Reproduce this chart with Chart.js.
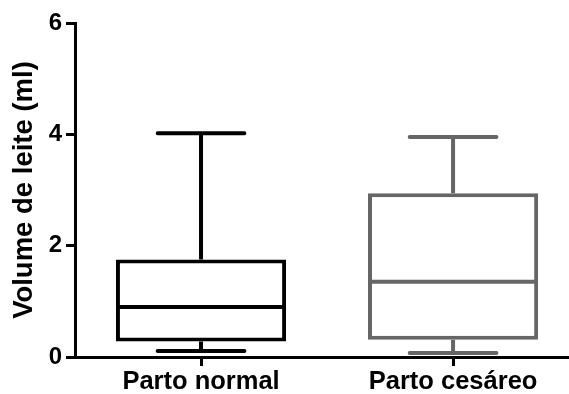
<!DOCTYPE html>
<html>
<head>
<meta charset="utf-8">
<script src="https://cdn.jsdelivr.net/npm/chart.js@4/dist/chart.umd.min.js"></script>
<style>
  html, body { margin: 0; padding: 0; background: #fff; }
  #wrap { width: 569px; height: 394px; }
</style>
</head>
<body>
<div id="wrap"><canvas id="c" width="569" height="394"></canvas></div>
<script>
// ---- data ----
const categories = ['Parto normal', 'Parto cesáreo'];
const whiskerMin = [0.11, 0.07];
const q1 = [0.28, 0.31];
const median = [0.90, 1.35];
const q3 = [1.75, 2.94];
const whiskerMax = [4.02, 3.95];
const yTicks = [0, 2, 4, 6];
const boxColors = ['#000000', '#666666'];

const FONT = '"Liberation Sans", Arial, Helvetica, sans-serif';
const LINE_W = 4;

const whiskerPlugin = {
  id: 'whiskers',
  afterDatasetsDraw(chart) {
    const xs = chart.scales.x, ys = chart.scales.y, ctx = chart.ctx;
    const meta = chart.getDatasetMeta(0);
    ctx.save();
    categories.forEach((c, i) => {
      const bar = meta.data[i];
      const cx = xs.getPixelForValue(i + 1);
      const capL = xs.getPixelForValue(i + 1 - 0.172);
      const capR = xs.getPixelForValue(i + 1 + 0.172);
      const yMax = ys.getPixelForValue(whiskerMax[i]);
      const yMin = ys.getPixelForValue(whiskerMin[i]);
      const yQ3 = ys.getPixelForValue(q3[i]);
      const yQ1 = ys.getPixelForValue(q1[i]);
      const yMed = ys.getPixelForValue(median[i]);
      ctx.strokeStyle = boxColors[i];
      ctx.lineWidth = LINE_W;
      ctx.lineCap = 'butt';
      ctx.beginPath();
      ctx.moveTo(cx, yQ3); ctx.lineTo(cx, yMax);
      ctx.moveTo(cx, yQ1); ctx.lineTo(cx, yMin);
      ctx.stroke();
      ctx.lineCap = 'round';
      ctx.beginPath();
      ctx.moveTo(capL, yMax); ctx.lineTo(capR, yMax);
      ctx.moveTo(capL, yMin); ctx.lineTo(capR, yMin);
      ctx.stroke();
      ctx.lineCap = 'butt';
      const left = bar.x - bar.width / 2 + LINE_W / 2;
      const right = bar.x + bar.width / 2 - LINE_W / 2;
      ctx.beginPath();
      ctx.moveTo(left, yMed); ctx.lineTo(right, yMed);
      ctx.stroke();
    });
    ctx.restore();
  }
};

new Chart(document.getElementById('c'), {
  type: 'bar',
  data: {
    datasets: [{
      data: categories.map((c, i) => ({ x: i + 1, y: [q1[i], q3[i]] })),
      backgroundColor: '#ffffff',
      borderColor: boxColors,
      borderWidth: LINE_W,
      borderSkipped: false,
      barPercentage: 0.675,
      categoryPercentage: 1
    }]
  },
  options: {
    responsive: false,
    animation: false,
    layout: { padding: { top: 23, left: 0, right: 0, bottom: 0 } },
    plugins: { legend: { display: false }, tooltip: { enabled: false } },
    scales: {
      x: {
        type: 'linear',
        min: 0.5,
        max: 2.46,
        offset: false,
        afterBuildTicks: (s) => { s.ticks = categories.map((c, i) => ({ value: i + 1 })); },
        afterFit: (s) => { s.height = 37; },
        ticks: {
          callback: (v) => categories[v - 1] || '',
          color: '#000',
          font: { family: FONT, size: 25.5, weight: 'bold', lineHeight: 1.1 },
          padding: 2,
          maxRotation: 0,
          autoSkip: false
        },
        grid: { display: true, offset: false, drawOnChartArea: false, tickLength: 9, tickWidth: 3, color: '#000' },
        border: { display: true, width: 3, color: '#000' }
      },
      y: {
        min: 0,
        max: 6,
        afterBuildTicks: (s) => { s.ticks = yTicks.map(v => ({ value: v })); },
        afterFit: (s) => { s.width = 75; },
        ticks: {
          color: '#000',
          font: { family: FONT, size: 24, weight: 'bold' },
          padding: 4
        },
        grid: { display: true, drawOnChartArea: false, tickLength: 9, tickWidth: 3, color: '#000' },
        border: { display: true, width: 3, color: '#000' },
        title: {
          display: true,
          text: 'Volume de leite (ml)',
          color: '#000',
          font: { family: FONT, size: 27.5, weight: 'bold' },
          padding: { top: 7.5, bottom: 0 }
        }
      }
    }
  },
  plugins: [whiskerPlugin]
});
</script>
</body>
</html>
